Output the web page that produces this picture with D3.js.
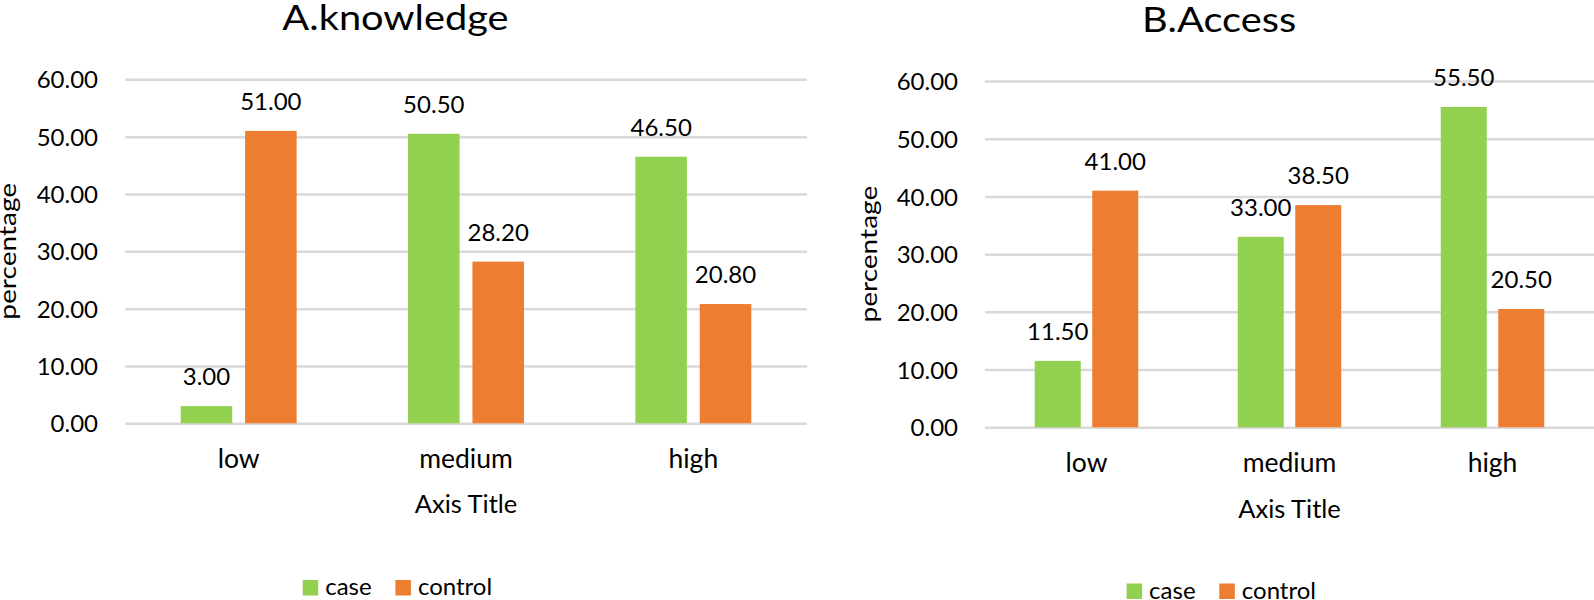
<!DOCTYPE html>
<html>
<head>
<meta charset="utf-8">
<script src="https://cdn.jsdelivr.net/npm/d3@7"></script>
<style>
  html, body { margin: 0; padding: 0; background: #fff; }
  svg { display: block; font-family: Lato, "Open Sans", sans-serif; }
</style>
</head>
<body>
<svg id="chart" width="1594" height="600"></svg>
<script>
// ---- data ----
const categories = ["low", "medium", "high"];
const seriesNames = ["case", "control"];
const knowledgeCase = [3.00, 50.50, 46.50];
const knowledgeControl = [51.00, 28.20, 20.80];
const accessCase = [11.50, 33.00, 55.50];
const accessControl = [41.00, 38.50, 20.50];
const yTicks = [0, 10, 20, 30, 40, 50, 60];
const titles = ["A.knowledge", "B.Access"];
const yAxisTitle = "percentage";
const xAxisTitle = "Axis Title";

const colors = { case: "#92D050", control: "#ED7D31" };
const svg = d3.select("#chart");

const panels = [
  { title: titles[0], caseV: knowledgeCase, controlV: knowledgeControl,
    x: [125, 807], y: [423.3, 79.3], titleX: 395.5, titleY: 30,
    yTitleX: 16.2, catOff: 45, axisTitleOff: 90, legendX: 302.7, legendY: 580 },
  { title: titles[1], caseV: accessCase, controlV: accessControl,
    x: [985, 1594], y: [427.3, 81], titleX: 1219, titleY: 31.5,
    yTitleX: 876.5, catOff: 44.5, axisTitleOff: 91, legendX: 1126.6, legendY: 583.5 }
];

panels.forEach(p => {
  const g = svg.append("g");
  const x0 = d3.scaleBand().domain(categories).range(p.x).padding(0);
  const y = d3.scaleLinear().domain([0, 60]).range(p.y);
  const groupW = x0.bandwidth() * 0.51;
  const x1 = d3.scaleBand().domain(seriesNames).range([0, groupW]).paddingInner(0.2).paddingOuter(0);
  const gOff = (x0.bandwidth() - groupW) / 2;

  // grid + y tick labels
  const yAxis = d3.axisLeft(y).tickValues(yTicks).tickFormat(d3.format(".2f"))
    .tickSize(-(p.x[1] - p.x[0])).tickPadding(27);
  const ya = g.append("g").attr("transform", `translate(${p.x[0]},0)`).call(yAxis);
  ya.select(".domain").remove();
  ya.selectAll(".tick line").attr("stroke", "#D9D9D9").attr("stroke-width", 2.5);
  ya.selectAll(".tick text").attr("font-size", 24).attr("fill", "#000")
    .attr("font-family", "Lato, sans-serif").attr("dy", "0.36em");

  // bars
  const rows = categories.map((c, i) => ({ cat: c, vals: [
    { s: "case", v: p.caseV[i] }, { s: "control", v: p.controlV[i] }] }));
  const grp = g.selectAll(".grp").data(rows).enter().append("g")
    .attr("transform", d => `translate(${x0(d.cat) + gOff},0)`);
  grp.selectAll("rect").data(d => d.vals).enter().append("rect")
    .attr("x", d => x1(d.s)).attr("width", x1.bandwidth())
    .attr("y", d => y(d.v)).attr("height", d => y(0) - y(d.v))
    .attr("fill", d => colors[d.s]);
  grp.selectAll("text").data(d => d.vals).enter().append("text")
    .attr("x", d => x1(d.s) + x1.bandwidth() / 2).attr("y", d => y(d.v) - 21)
    .attr("text-anchor", "middle").attr("font-size", 24).attr("fill", "#000")
    .text(d => d3.format(".2f")(d.v));

  // category labels
  g.selectAll(".cat").data(categories).enter().append("text")
    .attr("x", d => x0(d) + x0.bandwidth() / 2).attr("y", y(0) + p.catOff)
    .attr("text-anchor", "middle").attr("font-size", 26.5).attr("fill", "#000").text(d => d);

  // x axis title
  g.append("text").attr("x", (p.x[0] + p.x[1]) / 2).attr("y", y(0) + p.axisTitleOff)
    .attr("text-anchor", "middle").attr("font-size", 25.5).attr("fill", "#000").text(xAxisTitle);

  // y axis title
  const yMid = (p.y[0] + p.y[1]) / 2;
  g.append("text").attr("transform", `translate(${p.yTitleX},${yMid}) rotate(-90) scale(1.17,1)`)
    .attr("text-anchor", "middle")
    .attr("font-size", 24).attr("fill", "#000").text(yAxisTitle);

  // chart title
  g.append("text").attr("transform", `translate(${p.titleX},${p.titleY}) scale(1.17,1)`)
    .attr("text-anchor", "middle").attr("font-size", 34).attr("fill", "#000").text(p.title);

  // legend
  const lg = g.append("g").attr("transform", `translate(${p.legendX},${p.legendY})`);
  const offsets = [0, 92.7];
  seriesNames.forEach((s, i) => {
    lg.append("rect").attr("x", offsets[i]).attr("y", 0).attr("width", 15.5).attr("height", 15.5)
      .attr("fill", colors[s]);
    lg.append("text").attr("x", offsets[i] + 22.5).attr("y", 15).attr("font-size", 24)
      .attr("fill", "#000").text(s);
  });
});
</script>
</body>
</html>
